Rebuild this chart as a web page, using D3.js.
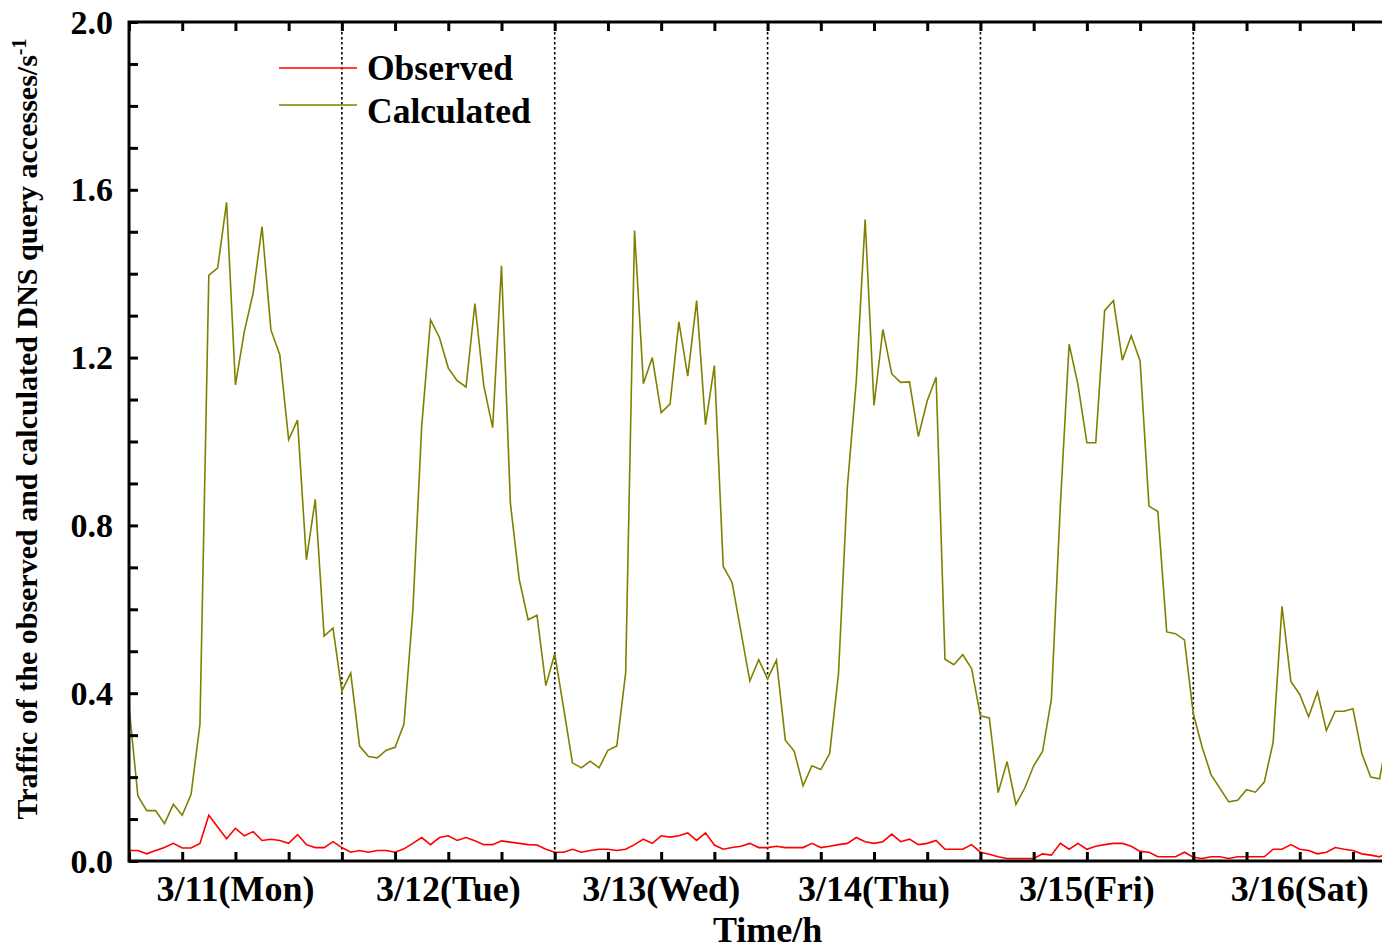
<!DOCTYPE html>
<html>
<head>
<meta charset="utf-8">
<script src="https://cdn.jsdelivr.net/npm/d3@7"></script>
<style>
  html, body { margin: 0; padding: 0; background: #fff; }
  svg { display: block; }
  text { font-family: "Liberation Serif", "Times New Roman", serif; font-weight: bold; fill: #000; }
</style>
</head>
<body>
<svg id="chart" width="1382" height="949"></svg>
<script>
// Hourly DNS query traffic, 3/11 00:00 onward (hour index = position in array)
const observed = [
  0.025,0.025,0.017,0.025,0.032,0.042,0.031,0.031,0.042,0.109,0.081,0.053,0.078,0.060,0.070,0.049,0.052,0.049,0.042,0.063,0.039,0.032,0.032,0.046,
  0.032,0.021,0.025,0.021,0.025,0.025,0.021,0.029,0.042,0.056,0.039,0.056,0.060,0.049,0.056,0.048,0.039,0.039,0.048,0.045,0.042,0.039,0.038,0.028,
  0.021,0.021,0.028,0.021,0.025,0.028,0.028,0.025,0.028,0.039,0.052,0.042,0.060,0.057,0.060,0.067,0.049,0.067,0.038,0.028,0.032,0.035,0.042,0.032,
  0.032,0.035,0.032,0.032,0.032,0.042,0.032,0.035,0.039,0.042,0.056,0.046,0.042,0.046,0.064,0.046,0.052,0.039,0.042,0.049,0.028,0.028,0.028,0.039,
  0.021,0.016,0.010,0.006,0.006,0.006,0.006,0.017,0.014,0.042,0.028,0.042,0.028,0.035,0.039,0.042,0.042,0.035,0.023,0.021,0.010,0.010,0.010,0.021,
  0.009,0.006,0.010,0.010,0.006,0.010,0.010,0.010,0.010,0.028,0.028,0.039,0.028,0.025,0.017,0.021,0.032,0.028,0.025,0.017,0.014,0.010,0.020
];
const calculated = [
  0.368,0.155,0.120,0.120,0.089,0.135,0.109,0.159,0.326,1.396,1.414,1.570,1.135,1.262,1.354,1.512,1.266,1.207,1.004,1.051,0.718,0.862,0.536,0.555,
  0.405,0.448,0.274,0.249,0.246,0.264,0.271,0.326,0.596,1.036,1.290,1.248,1.175,1.145,1.130,1.329,1.133,1.033,1.419,0.853,0.671,0.575,0.586,0.418,
  0.494,0.365,0.234,0.222,0.238,0.222,0.264,0.274,0.449,1.503,1.138,1.200,1.069,1.089,1.285,1.156,1.336,1.040,1.181,0.702,0.664,0.546,0.429,0.480,
  0.434,0.479,0.288,0.262,0.179,0.227,0.218,0.256,0.448,0.893,1.144,1.529,1.086,1.267,1.161,1.141,1.142,1.012,1.097,1.153,0.481,0.468,0.492,0.459,
  0.346,0.341,0.163,0.237,0.135,0.174,0.227,0.261,0.386,0.845,1.232,1.135,0.997,0.997,1.312,1.336,1.194,1.252,1.192,0.846,0.833,0.546,0.542,0.527,
  0.351,0.271,0.206,0.173,0.141,0.145,0.170,0.164,0.188,0.283,0.607,0.428,0.397,0.344,0.403,0.311,0.357,0.357,0.363,0.256,0.200,0.196,0.310
];
const dayLabels = ["3/11(Mon)", "3/12(Tue)", "3/13(Wed)", "3/14(Thu)", "3/15(Fri)", "3/16(Sat)"];
const dayBoundaries = [24, 48, 72, 96, 120];
const yTickLabels = [0.0, 0.4, 0.8, 1.2, 1.6, 2.0];
const seriesNames = ["Observed", "Calculated"];
const seriesColors = ["#ff0000", "#808000"];

const svg = d3.select("#chart");
const m = { left: 129, top: 22, right: 1384, bottom: 861 };

const x = d3.scaleLinear().domain([0, 141.5]).range([m.left, m.right]);
const y = d3.scaleLinear().domain([0, 2.0]).range([m.bottom, m.top]);

// clip the data lines to the plot frame
svg.append("clipPath").attr("id", "plotClip")
  .append("rect").attr("x", m.left).attr("y", m.top)
  .attr("width", m.right - m.left).attr("height", m.bottom - m.top);

// day separators
svg.append("g").selectAll("line").data(dayBoundaries).join("line")
  .attr("x1", d => x(d)).attr("x2", d => x(d))
  .attr("y1", m.top).attr("y2", m.bottom)
  .attr("stroke", "#000").attr("stroke-width", 1.6)
  .attr("stroke-dasharray", "2.5,2.5");

// series
const line = d3.line().x((d, i) => x(i)).y(d => y(d));
const plot = svg.append("g").attr("clip-path", "url(#plotClip)");
plot.append("path").datum(calculated).attr("d", line)
  .attr("fill", "none").attr("stroke", seriesColors[1]).attr("stroke-width", 1.6)
  .attr("stroke-linejoin", "miter");
plot.append("path").datum(observed).attr("d", line)
  .attr("fill", "none").attr("stroke", seriesColors[0]).attr("stroke-width", 1.6)
  .attr("stroke-linejoin", "miter");

// axes: inward ticks every 6 h and every 0.1
const xTicks = d3.range(0, 142, 6);
const yTicks = d3.range(0, 21).map(k => k / 10);
const tickLen = 9;

svg.append("g").attr("transform", `translate(0,${m.bottom})`)
  .call(d3.axisBottom(x).tickValues(xTicks).tickSize(-tickLen).tickFormat(""))
  .call(g => g.select(".domain").remove())
  .call(g => g.selectAll("line").attr("stroke", "#000").attr("stroke-width", 3));
svg.append("g").attr("transform", `translate(0,${m.top})`)
  .call(d3.axisTop(x).tickValues(xTicks).tickSize(-tickLen).tickFormat(""))
  .call(g => g.select(".domain").remove())
  .call(g => g.selectAll("line").attr("stroke", "#000").attr("stroke-width", 3));
svg.append("g").attr("transform", `translate(${m.left},0)`)
  .call(d3.axisLeft(y).tickValues(yTicks).tickSize(-tickLen).tickFormat(""))
  .call(g => g.select(".domain").remove())
  .call(g => g.selectAll("line").attr("stroke", "#000").attr("stroke-width", 3));

// frame
svg.append("rect").attr("x", m.left).attr("y", m.top)
  .attr("width", m.right - m.left).attr("height", m.bottom - m.top)
  .attr("fill", "none").attr("stroke", "#000").attr("stroke-width", 3);

// y tick labels
svg.append("g").selectAll("text").data(yTickLabels).join("text")
  .attr("x", 113).attr("y", d => y(d)).attr("dy", "0.34em")
  .attr("text-anchor", "end").attr("font-size", 34)
  .text(d => d.toFixed(1));

// day labels under each day
svg.append("g").selectAll("text").data(dayLabels).join("text")
  .attr("x", (d, i) => x(i * 24 + 12)).attr("y", 901)
  .attr("text-anchor", "middle").attr("font-size", 36)
  .text(d => d);

// axis titles
svg.append("text").attr("x", x(72)).attr("y", 942)
  .attr("text-anchor", "middle").attr("font-size", 36).text("Time/h");

const yTitle = svg.append("text")
  .attr("transform", "translate(37,429) rotate(-90)")
  .attr("text-anchor", "middle").attr("font-size", 30);
yTitle.append("tspan").text("Traffic of the observed and calculated DNS query accesses/s");
yTitle.append("tspan").attr("dy", -11).attr("font-size", 20).text("-1");

// legend
const legend = svg.append("g");
const legendRows = [0, 1];
const legendLineY = [68, 105];
const legendTextY = [68, 111];
legend.selectAll("line").data(legendRows).join("line")
  .attr("x1", 279).attr("x2", 357)
  .attr("y1", i => legendLineY[i]).attr("y2", i => legendLineY[i])
  .attr("stroke", i => seriesColors[i]).attr("stroke-width", 1.6);
legend.selectAll("text").data(legendRows).join("text")
  .attr("x", 367).attr("y", i => legendTextY[i]).attr("dy", "0.34em")
  .attr("font-size", 35.5)
  .text(i => seriesNames[i]);
</script>
</body>
</html>
